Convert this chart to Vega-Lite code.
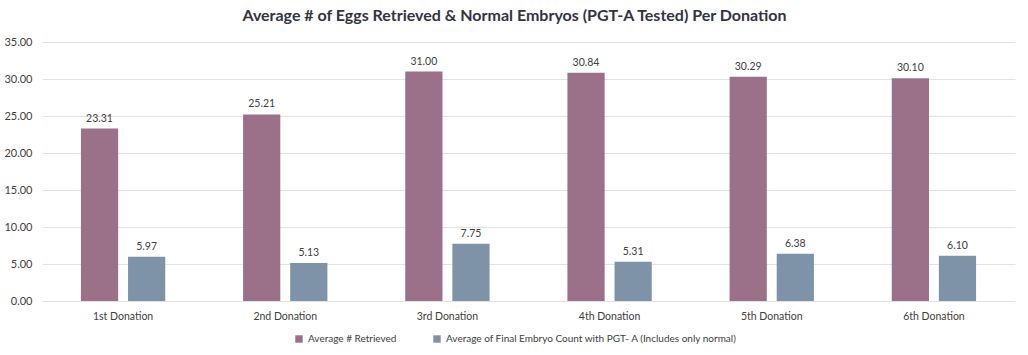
{
  "$schema": "https://vega.github.io/schema/vega-lite/v6.json",
  "width": 973,
  "height": 259,
  "autosize": "none",
  "padding": {"left": 42, "top": 42, "right": 13, "bottom": 54},
  "background": "white",
  "config": {
    "font": "Lato",
    "view": {"stroke": null},
    "axis": {"labelFont": "Lato", "labelColor": "#404040", "labelFontSize": 11}
  },
  "title": {
    "text": "Average # of Eggs Retrieved & Normal Embryos (PGT-A Tested) Per Donation",
    "font": "Lato",
    "fontSize": 16,
    "fontWeight": "bold",
    "color": "#333344",
    "anchor": "middle",
    "dx": -14,
    "offset": 12
  },
  "data": {
    "values": [
      {"donation": "1st Donation", "series": "Average # Retrieved", "value": 23.31},
      {"donation": "1st Donation", "series": "Average of Final Embryo Count with PGT- A (Includes only normal)", "value": 5.97},
      {"donation": "2nd Donation", "series": "Average # Retrieved", "value": 25.21},
      {"donation": "2nd Donation", "series": "Average of Final Embryo Count with PGT- A (Includes only normal)", "value": 5.13},
      {"donation": "3rd Donation", "series": "Average # Retrieved", "value": 31.00},
      {"donation": "3rd Donation", "series": "Average of Final Embryo Count with PGT- A (Includes only normal)", "value": 7.75},
      {"donation": "4th Donation", "series": "Average # Retrieved", "value": 30.84},
      {"donation": "4th Donation", "series": "Average of Final Embryo Count with PGT- A (Includes only normal)", "value": 5.31},
      {"donation": "5th Donation", "series": "Average # Retrieved", "value": 30.29},
      {"donation": "5th Donation", "series": "Average of Final Embryo Count with PGT- A (Includes only normal)", "value": 6.38},
      {"donation": "6th Donation", "series": "Average # Retrieved", "value": 30.10},
      {"donation": "6th Donation", "series": "Average of Final Embryo Count with PGT- A (Includes only normal)", "value": 6.10}
    ]
  },
  "encoding": {
    "x": {
      "field": "donation",
      "type": "nominal",
      "sort": null,
      "scale": {"paddingInner": 0.48, "paddingOuter": 0.24},
      "axis": {"title": null, "labelAngle": 0, "ticks": false, "domain": false, "labelPadding": 10, "labelFontSize": 10.5}
    },
    "xOffset": {
      "field": "series",
      "type": "nominal",
      "sort": null,
      "scale": {"paddingInner": 0.21}
    },
    "y": {
      "field": "value",
      "type": "quantitative",
      "scale": {"domain": [0, 35], "nice": false},
      "axis": {"title": null, "values": [0, 5, 10, 15, 20, 25, 30, 35], "format": ".2f", "ticks": false, "domain": false, "gridColor": "#e2e2e2", "labelPadding": 10, "labelFontSize": 11}
    }
  },
  "layer": [
    {
      "mark": {"type": "bar"},
      "encoding": {
        "color": {
          "field": "series",
          "type": "nominal",
          "sort": null,
          "scale": {"range": ["#9b7089", "#7f93a8"]},
          "legend": {
            "title": null,
            "orient": "none",
            "legendX": 252,
            "legendY": 292,
            "direction": "horizontal",
            "symbolType": "square",
            "symbolSize": 55,
            "labelFontSize": 10,
            "labelColor": "#404040",
            "labelLimit": 400,
            "columnPadding": 35
          }
        }
      }
    },
    {
      "mark": {"type": "text", "dy": -10, "fontSize": 10.5, "color": "#404040", "font": "Lato"},
      "encoding": {
        "text": {"field": "value", "type": "quantitative", "format": ".2f"}
      }
    }
  ]
}
